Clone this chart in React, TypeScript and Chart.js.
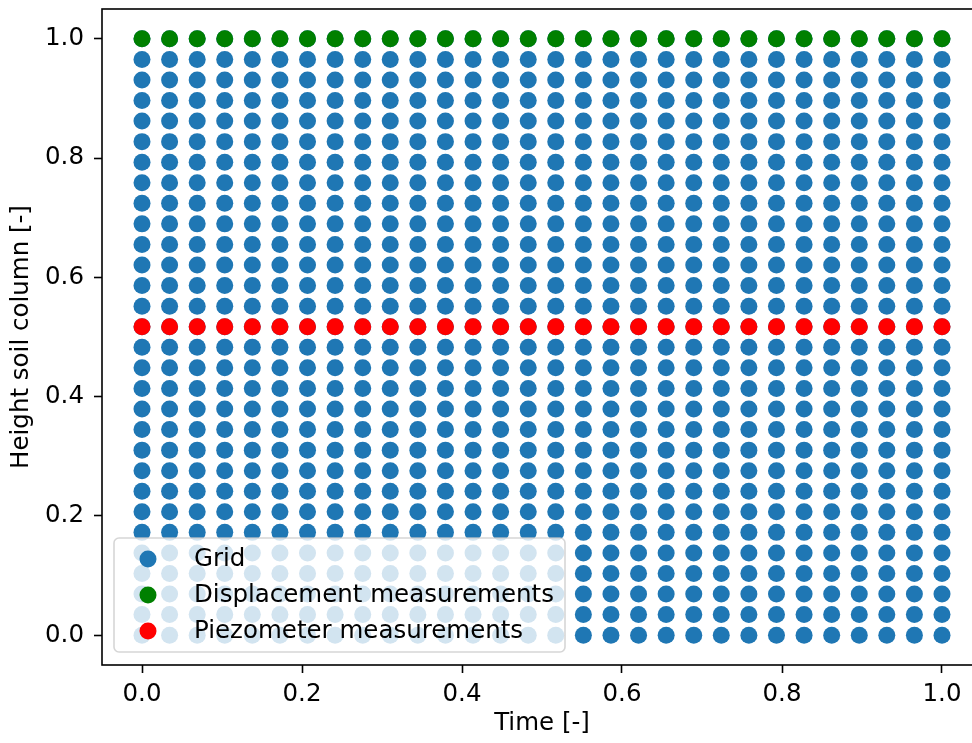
import React, { useEffect, useRef } from "react";
import { Chart, registerables } from "chart.js";

Chart.register(...registerables);

const timeValues = [
  0.0, 0.0345, 0.069, 0.1034, 0.1379, 0.1724, 0.2069, 0.2414, 0.2759, 0.3103,
  0.3448, 0.3793, 0.4138, 0.4483, 0.4828, 0.5172, 0.5517, 0.5862, 0.6207, 0.6552,
  0.6897, 0.7241, 0.7586, 0.7931, 0.8276, 0.8621, 0.8966, 0.931, 0.9655, 1.0,
];
const heightValues = [
  0.0, 0.0345, 0.069, 0.1034, 0.1379, 0.1724, 0.2069, 0.2414, 0.2759, 0.3103,
  0.3448, 0.3793, 0.4138, 0.4483, 0.4828, 0.5172, 0.5517, 0.5862, 0.6207, 0.6552,
  0.6897, 0.7241, 0.7586, 0.7931, 0.8276, 0.8621, 0.8966, 0.931, 0.9655, 1.0,
];
const displacementHeight = 1.0;
const piezometerHeight = 0.5172;
const xTicks = [0.0, 0.2, 0.4, 0.6, 0.8, 1.0];
const yTicks = [0.0, 0.2, 0.4, 0.6, 0.8, 1.0];
const seriesLabels = ["Grid", "Displacement measurements", "Piezometer measurements"];
const seriesColors = ["#1f77b4", "#008000", "#ff0000"];
const xTitle = "Time [-]";
const yTitle = "Height soil column [-]";

const FONT = "'DejaVu Sans', 'Liberation Sans', sans-serif";
const FONT_SIZE = 24.5;

const framePlugin = {
  id: "frame",
  afterDraw(chart: any) {
    const { ctx, chartArea } = chart;
    ctx.save();
    ctx.strokeStyle = "#000";
    ctx.lineWidth = 1.6;
    ctx.strokeRect(
      chartArea.left,
      chartArea.top,
      chartArea.right - chartArea.left,
      chartArea.bottom - chartArea.top
    );
    ctx.restore();
  },
};

const legendPlugin = {
  id: "mplLegend",
  afterDatasetsDraw(chart: any) {
    const { ctx, chartArea } = chart;
    const x0 = chartArea.left + 12;
    const w = 451;
    const h = 114;
    const y0 = chartArea.bottom - 13 - h;
    ctx.save();
    ctx.beginPath();
    ctx.roundRect(x0, y0, w, h, 5);
    ctx.fillStyle = "rgba(255,255,255,0.8)";
    ctx.fill();
    ctx.strokeStyle = "rgba(204,204,204,0.8)";
    ctx.lineWidth = 1.6;
    ctx.stroke();
    ctx.font = `${FONT_SIZE}px ${FONT}`;
    ctx.textBaseline = "middle";
    ctx.textAlign = "left";
    chart.data.datasets.forEach((ds: any, i: number) => {
      const y = y0 + 21 + i * 36;
      ctx.beginPath();
      ctx.arc(x0 + 34, y, 8.5, 0, Math.PI * 2);
      ctx.fillStyle = ds.backgroundColor;
      ctx.fill();
      ctx.fillStyle = "#000";
      ctx.fillText(ds.label, x0 + 80, y + 1);
    });
    ctx.restore();
  },
};

export default function App() {
  const canvasRef = useRef<HTMLCanvasElement | null>(null);

  useEffect(() => {
    if (!canvasRef.current) return;
    const gridPoints = heightValues.flatMap((h) => timeValues.map((t) => ({ x: t, y: h })));
    const dispPoints = timeValues.map((t) => ({ x: t, y: displacementHeight }));
    const piezoPoints = timeValues.map((t) => ({ x: t, y: piezometerHeight }));
    const font = { family: FONT, size: FONT_SIZE };
    const tickGrid = {
      display: true,
      drawOnChartArea: false,
      drawTicks: true,
      tickLength: 8,
      tickColor: "#000",
      tickWidth: 1.6,
    };
    const chart = new Chart(canvasRef.current, {
      type: "scatter",
      data: {
        datasets: [
          {
            label: seriesLabels[0],
            data: gridPoints,
            backgroundColor: seriesColors[0],
            borderWidth: 0,
            pointRadius: 8.5,
            order: 3,
          },
          {
            label: seriesLabels[1],
            data: dispPoints,
            backgroundColor: seriesColors[1],
            borderWidth: 0,
            pointRadius: 8.5,
            order: 2,
          },
          {
            label: seriesLabels[2],
            data: piezoPoints,
            backgroundColor: seriesColors[2],
            borderWidth: 0,
            pointRadius: 8.5,
            order: 1,
          },
        ],
      },
      options: {
        responsive: false,
        animation: false,
        layout: { padding: { left: 0, top: 9, right: 18, bottom: 0 } },
        plugins: { legend: { display: false }, tooltip: { enabled: false } },
        scales: {
          x: {
            type: "linear",
            min: -0.05,
            max: 1.05,
            afterBuildTicks: (s: any) => {
              s.ticks = xTicks.map((v) => ({ value: v }));
            },
            afterFit: (s: any) => {
              s.height = 78;
              s.paddingLeft = 0;
              s.paddingRight = 0;
            },
            ticks: {
              font,
              color: "#000",
              padding: 7,
              maxRotation: 0,
              callback: (v: any) => Number(v).toFixed(1),
            },
            grid: tickGrid,
            border: { display: false },
            title: {
              display: true,
              text: xTitle,
              font,
              color: "#000",
              padding: { top: 0, bottom: 5 },
            },
          },
          y: {
            type: "linear",
            min: -0.05,
            max: 1.05,
            afterBuildTicks: (s: any) => {
              s.ticks = yTicks.map((v) => ({ value: v }));
            },
            afterFit: (s: any) => {
              s.width = 102;
              s.paddingTop = 0;
              s.paddingBottom = 0;
            },
            ticks: {
              font,
              color: "#000",
              padding: 10,
              callback: (v: any) => Number(v).toFixed(1),
            },
            grid: tickGrid,
            border: { display: false },
            title: {
              display: true,
              text: yTitle,
              font,
              color: "#000",
              padding: { top: 7, bottom: 0 },
            },
          },
        },
      },
      plugins: [framePlugin, legendPlugin],
    } as any);
    return () => chart.destroy();
  }, []);

  return (
    <div
      style={{
        position: "fixed",
        left: 0,
        top: 0,
        width: 972,
        height: 743,
        overflow: "hidden",
        background: "#fff",
      }}
    >
      <canvas ref={canvasRef} width={1000} height={743} style={{ width: 1000, height: 743, display: "block" }} />
    </div>
  );
}
